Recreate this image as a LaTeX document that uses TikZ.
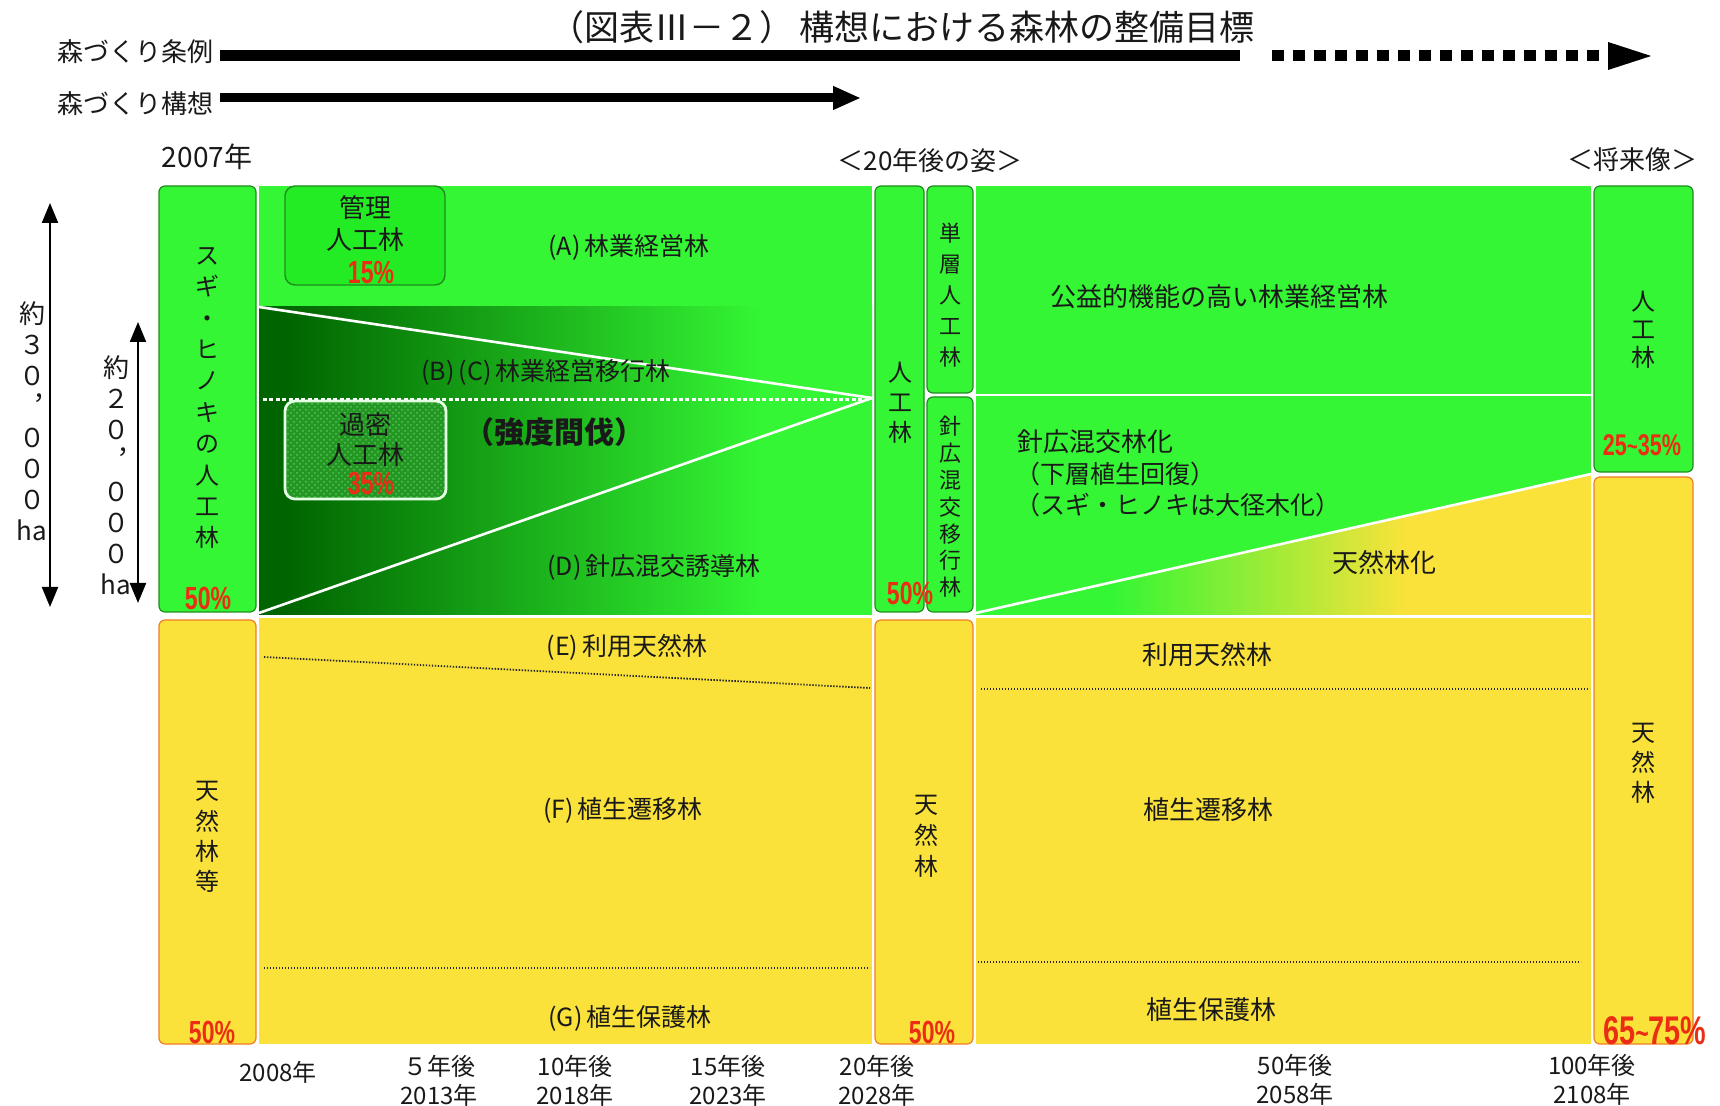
\documentclass[tikz,border=0pt]{standalone}
\usepackage{fontspec}
\setmainfont{Noto Sans CJK JP}
\newfontfamily\pctfont[FakeStretch=0.72]{Liberation Sans}
\usetikzlibrary{arrows.meta,patterns}

\definecolor{lgreen}{RGB}{52,246,52}
\definecolor{kgreen}{RGB}{36,236,36}
\definecolor{dkgreen}{RGB}{0,100,0}
\definecolor{bordgreen}{RGB}{30,140,30}
\definecolor{yel}{RGB}{250,226,58}
\definecolor{ora}{RGB}{240,125,40}
\definecolor{pctred}{RGB}{235,45,20}
\definecolor{txt}{RGB}{25,25,25}
\definecolor{kmfill}{RGB}{35,150,35}
\definecolor{kmdot}{RGB}{80,195,80}

\pgfdeclarehorizontalshading{dgshade}{100bp}{color(0bp)=(dkgreen); color(27bp)=(dkgreen); color(66bp)=(lgreen); color(100bp)=(lgreen)}
\pgfdeclarehorizontalshading{gyshade}{100bp}{color(0bp)=(lgreen); color(36bp)=(lgreen); color(60bp)=(yel); color(100bp)=(yel)}

\tikzset{
  lbl/.style={inner sep=0pt, text=txt, font=\fontsize{12.5}{15}\selectfont},
  lblr/.style={inner sep=0pt, text=txt, font=\fontsize{13}{15}\selectfont},
  ttl/.style={inner sep=0pt, text=txt, font=\fontsize{17.5}{19}\selectfont},
  hdr/.style={inner sep=0pt, text=txt, font=\fontsize{13}{15}\selectfont},
  yr/.style={inner sep=0pt, text=txt, align=center, font=\fontsize{12}{14.5}\selectfont},
  vtxt/.style={inner sep=0pt, text=txt, align=center, font=\fontsize{12}{#1}\selectfont},
  vtxts/.style={inner sep=0pt, text=txt, align=center, font=\fontsize{11}{#1}\selectfont},
  dimtxt/.style={inner sep=0pt, text=txt, align=center, font=\fontsize{13}{15.5}\selectfont},
  pct/.style={inner sep=0pt, text=pctred, font={\pctfont\bfseries\fontsize{16}{17}\selectfont}},
  gbox/.style={draw=bordgreen, line width=0.6pt, fill=lgreen, rounded corners=3pt},
  ybox/.style={draw=ora, line width=0.6pt, fill=yel, rounded corners=3pt},
  wline/.style={draw=white, line width=1.3pt},
  dotln/.style={draw=black!85, line width=0.9pt, dash pattern=on 0.7pt off 0.8pt},
  dimarrow/.style={draw=black, line width=1.1pt, {Triangle[length=10pt,width=8pt]}-{Triangle[length=10pt,width=8pt]}},
}

\begin{document}
\begin{tikzpicture}[x=0.5pt,y=-0.5pt]
\useasboundingbox (0,0) rectangle (1720,1106);
\clip (0,0) rectangle (1720,1106);
\fill[white] (0,0) rectangle (1720,1106);

% ---------- title and timelines ----------
\node[ttl, anchor=west] (title) at (549,27) {（図表Ⅲ－２）\hspace{0.15em}構想における森林の整備目標};

\node[hdr, anchor=east] (jorei) at (214,52) {森づくり条例};
\coordinate (joreiA) at (220,56);
\coordinate (joreiB) at (1240,56);
\coordinate (joreiC) at (1272,56);
\coordinate (joreiD) at (1656,56);
\draw[line width=5.5pt] (joreiA) -- (joreiB);
\draw[line width=5.5pt, dash pattern=on 6pt off 4.5pt, -{Triangle[length=24pt,width=12pt]}] (joreiC) -- (joreiD);

\node[hdr, anchor=east] (kousou) at (214,104) {森づくり構想};
\coordinate (kousouA) at (220,98);
\coordinate (kousouB) at (861,98);
\draw[line width=4.5pt, -{Triangle[length=14pt,width=11pt]}] (kousouA) -- (kousouB);

\node[inner sep=0pt, text=txt, font=\fontsize{14}{16}\selectfont] (y2007) at (207,157) {2007年};
\node[hdr] (h20) at (930,161) {＜20年後の姿＞};
\node[hdr] (hfut) at (1632,160) {＜将来像＞};

% ---------- dimension arrows ----------
\coordinate (d30t) at (50,203);
\coordinate (d30b) at (50,607);
\draw[dimarrow] (d30t) -- (d30b);
\node[dimtxt] (d30) at (32,421) {約\\３\\０\\︐\\０\\０\\０\\ha};
\coordinate (d20t) at (138,322);
\coordinate (d20b) at (138,603);
\draw[dimarrow] (d20t) -- (d20b);
\node[dimtxt] (d20) at (116,475) {約\\２\\０\\︐\\０\\０\\０\\ha};

% ---------- main area backgrounds ----------
\fill[lgreen] (259,186) rectangle (872,307);
\shade[shading=dgshade] (259,307) rectangle (872,615);
\fill[yel] (259,618) rectangle (872,1044);

\fill[lgreen] (976,186) rectangle (1591,615);
\shade[shading=gyshade] (976,613) -- (1591,474) -- (1591,615) -- (976,615) -- cycle;
\fill[yel] (976,618) rectangle (1591,1044);

% white lines
\coordinate (conv) at (872,398);
\draw[wline] (259,307) -- (conv);
\draw[wline] (259,613) -- (conv);
\draw[draw=white, line width=1.5pt, dash pattern=on 2pt off 1.2pt] (263,400) -- (870,400);
\draw[wline] (976,395) -- (1591,395);
\draw[wline] (976,613) -- (1591,474);
\draw[wline] (259,616.5) -- (872,616.5);
\draw[wline] (976,616.5) -- (1591,616.5);

% dotted lines
\draw[dotln] (264,657) -- (870,688);
\draw[dotln] (264,968) -- (870,968);
\draw[dotln] (981,689) -- (1590,689);
\draw[dotln] (978,962) -- (1581,962);

% ---------- columns ----------
\draw[gbox] (159,186) rectangle (256,612);
\draw[ybox] (159,620) rectangle (256,1044);
\draw[gbox] (875,186) rectangle (924,612);
\draw[gbox] (927,186) rectangle (973,393);
\draw[gbox] (927,397) rectangle (973,612);
\draw[ybox] (875,620) rectangle (973,1044);
\draw[gbox] (1594,186) rectangle (1693,472);
\draw[ybox] (1594,477) rectangle (1693,1044);

% inner boxes
\draw[draw=bordgreen, line width=0.7pt, fill=kgreen, rounded corners=5pt] (285,186) rectangle (445,285);
\fill[kmfill, rounded corners=5pt] (285,401) rectangle (446,499);
\fill[pattern=crosshatch dots, pattern color=kmdot, rounded corners=5pt] (285,401) rectangle (446,499);
\draw[draw=white!90!green, line width=1.4pt, rounded corners=5pt] (285,401) rectangle (446,499);

% ---------- column texts ----------
\node[vtxt=15.7pt] (sugi) at (207,398) {ス\\ギ\\・\\ヒ\\ノ\\キ\\の\\人\\工\\林};
\node[pct] (p1) at (208,598) {50\%};
\node[vtxt=15.2pt] (tenL) at (207,837) {天\\然\\林\\等};
\node[pct] (p2) at (212,1032) {50\%};

\node[vtxt=15pt] (jin20) at (900,403) {人\\工\\林};
\node[pct] (p3) at (910,593) {50\%};
\node[vtxts=15.5pt] (tanso) at (950,295) {単\\層\\人\\工\\林};
\node[vtxts=13.4pt] (shinko) at (950,507) {針\\広\\混\\交\\移\\行\\林};
\node[vtxt=15.5pt] (ten20) at (926,836) {天\\然\\林};
\node[pct] (p4) at (932,1032) {50\%};

\node[vtxt=14pt] (jinF) at (1643,330) {人\\工\\林};
\node[pct, font={\pctfont\bfseries\fontsize{15}{16}\selectfont}] (p5) at (1642,445) {25{\fontsize{13}{14}\selectfont\char"7E}35\%};
\node[vtxt=15pt] (tenF) at (1643,763) {天\\然\\林};
\node[pct, font={\pctfont\bfseries\fontsize{20}{21}\selectfont}] (p6) at (1655,1031) {65{\fontsize{16}{17}\selectfont\char"7E}75\%};

% inner box texts
\node[hdr] (kanri1) at (365,208) {管理};
\node[hdr] (kanri2) at (365,240) {人工林};
\node[pct] (kanri3) at (371,273) {15\%};
\node[hdr] (kmitsu1) at (365,425) {過密};
\node[hdr] (kmitsu2) at (365,455) {人工林};
\node[pct] (kmitsu3) at (371,484) {35\%};

% ---------- area labels ----------
\node[lbl] (A) at (629,247) {(A)\,林業経営林};
\node[lbl] (BC) at (546,372) {(B)\,(C)\,林業経営移行林};
\node[lbl, font=\fontsize{15}{17}\selectfont\bfseries] (kyodo) at (554,432) {（強度間伐）};
\node[lbl] (D) at (654,567) {(D)\,針広混交誘導林};
\node[lbl] (E) at (627,647) {(E)\,利用天然林};
\node[lbl] (F) at (623,810) {(F)\,植生遷移林};
\node[lbl] (G) at (630,1018) {(G)\,植生保護林};

\node[lblr] (koueki) at (1219,297) {公益的機能の高い林業経営林};
\node[lblr, anchor=west] (shinkoka) at (1017,442) {針広混交林化};
\node[lbl, anchor=west] (kaso) at (1015,474) {（下層植生回復）};
\node[lbl, anchor=west] (daikei) at (1015,505) {（スギ・ヒノキは大径木化）};
\node[lblr] (tenka) at (1384,563) {天然林化};
\node[lblr] (riyo) at (1207,655) {利用天然林};
\node[lblr] (sento) at (1208,810) {植生遷移林};
\node[lblr] (hogo) at (1211,1010) {植生保護林};

% ---------- bottom axis ----------
\node[yr] (t2008) at (278,1072) {2008年};
\node[yr] (t5) at (439,1081) {５年後\\2013年};
\node[yr] (t10) at (575,1081) {10年後\\2018年};
\node[yr] (t15) at (728,1081) {15年後\\2023年};
\node[yr] (t20) at (877,1081) {20年後\\2028年};
\node[yr] (t50) at (1295,1080) {50年後\\2058年};
\node[yr] (t100) at (1592,1080) {100年後\\2108年};
\end{tikzpicture}
\end{document}
